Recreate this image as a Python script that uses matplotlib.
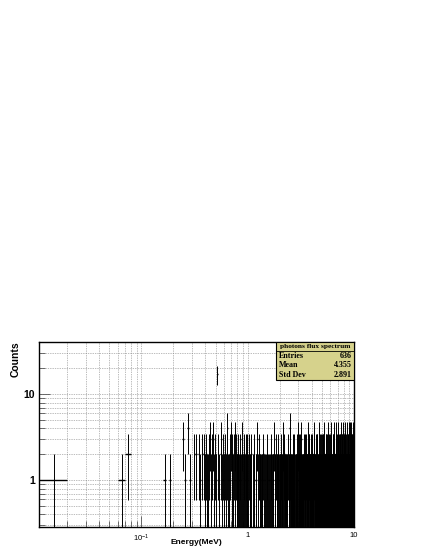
import numpy as np
import matplotlib
matplotlib.use('Agg')
from matplotlib import pyplot as plt
from matplotlib.ticker import FixedLocator, NullFormatter

# Spectro de fotones: 1000 bins de 0.01 MeV entre 0 y 10 MeV
nBins = 1000
eMin, eMax = 0.0, 10.0

# Cuentas de 0 a 1 MeV (bin a bin, el pico de 17 esta en 0.51 MeV)
countsLow = [0, 1, 0, 0, 0, 0, 1, 2, 0, 0,
             0, 0, 0, 0, 0, 0, 1, 0, 1, 0,
             0, 0, 0, 0, 3, 1, 0, 4, 1, 0,
             0, 2, 2, 0, 2, 1, 0, 2, 2, 1,
             2, 1, 1, 2, 3, 1, 2, 3, 1, 2,
             1, 17, 2, 1, 0, 2, 3, 1, 2, 1,
             2, 0, 1, 2, 4, 1, 1, 2, 0, 3,
             1, 2, 1, 0, 2, 1, 3, 2, 1, 1,
             2, 1, 0, 1, 2, 1, 1, 3, 1, 0,
             1, 2, 1, 1, 0, 2, 1, 2, 1, 1]

# Cuentas de 1 a 10 MeV, una fila por MeV (100 bins por fila)
countsHigh = [
    '1020110120 0100210010 1003010201 0110001100 2001010100 '
    '0120001010 1000210001 0101100030 1010020101 0200101001',
    '0110200101 1000130010 0201001100 1010010200 0011000410 '
    '2000110010 0100201001 1102000100 0010110020 1001003010',
    '1000201100 0120010010 3001000101 0100120000 1010001201 '
    '0002100110 1100010030 0010201000 2001100101 0100010210',
    '0101002001 1000110300 0020100010 1100001020 0001020101 '
    '2010000110 0100301000 1001000201 0110010002 1000120100',
    '1001010200 0200100110 1000030010 0110100002 1000201100 '
    '0011000100 2000110031 0100020100 1010100010 0002001101',
    '0100200101 1030010000 0001101020 2000010100 0110003001 '
    '1000200110 0101000102 1000110030 0020001100 1001020010',
    '1000102001 0130000100 1001010020 0100200010 2001000103 '
    '0010110000 1000021010 0201000100 1000300011 0110001002',
    '0010200101 1000013000 0101000200 2000110010 0100002101 '
    '1030000100 0001101000 1000020110 0200100003 1001010100',
    '1000101020 0103000100 2000010010 0011000201 1000300100 '
    '0100010012 1020000100 0000110300 1010002001 0100100110',
]

# Caja de estadisticas (valores de la figura original)
statsTitle = 'photons flux spectrum'
statsLabels = ['Entries', 'Mean', 'Std Dev']
statsValues = ['636', '4.355', '2.891']

xTicks = [0.1, 1, 10]
xTickLabels = [r'$\mathregular{10^{-1}}$', '1', '10']
yTicks = [1, 10]
yTickLabels = ['1', '10']

plt.rcParams['font.family'] = ['Liberation Sans', 'DejaVu Sans']
plt.rcParams['mathtext.fontset'] = 'custom'
plt.rcParams['mathtext.rm'] = 'Liberation Sans'

counts = np.array(countsLow +
                  [int(ch) for row in countsHigh for ch in row.replace(' ', '')])
edges = np.linspace(eMin, eMax, nBins + 1)

fig = plt.figure(figsize=(4.25, 5.5), dpi=100)
ax = fig.add_axes([0.092, 0.042, 0.741, 0.337])
ax.set_xscale('log')
ax.set_yscale('log')

# Solo se dibujan los bins no vacios, con error sqrt(N)
mask = counts > 0
lo = edges[:-1][mask]
hi = edges[1:][mask]
c = counts[mask].astype(float)
err = np.sqrt(c)
xc = 0.5 * (lo + hi)
ax.vlines(xc, np.maximum(c - err, 1e-3), c + err,
          color='black', linewidth=0.7, zorder=3)
ax.hlines(c, lo, hi, color='black', linewidth=1.0, zorder=3)

ax.set_xlim(0.0109, 10)
ax.set_ylim(0.287, 41)

ax.xaxis.set_major_locator(FixedLocator(xTicks))
ax.set_xticklabels(xTickLabels)
xMinor = [m * 10.0 ** e for e in (-2, -1, 0) for m in range(2, 10)]
ax.xaxis.set_minor_locator(FixedLocator(xMinor))
ax.xaxis.set_minor_formatter(NullFormatter())

ax.yaxis.set_major_locator(FixedLocator(yTicks))
ax.set_yticklabels(yTickLabels, fontweight='bold')
yMinor = [m * 10.0 ** e for e in (-1, 0, 1) for m in range(2, 10)]
ax.yaxis.set_minor_locator(FixedLocator(yMinor))
ax.yaxis.set_minor_formatter(NullFormatter())

ax.tick_params(axis='x', which='both', direction='in', labelsize=5.5,
               top=False, pad=4)
ax.tick_params(axis='y', which='both', direction='in', labelsize=7.5,
               right=False, pad=3)
ax.tick_params(which='major', length=8, width=0.6, color='#555555')
ax.tick_params(which='minor', length=4, width=0.6, color='#555555')

ax.grid(which='both', color='#7a7a7a', linestyle=(0, (1, 1.5)),
        linewidth=0.5, zorder=0)
ax.set_axisbelow(True)
for sp in ax.spines.values():
    sp.set_linewidth(1.0)

ax.set_xlabel('Energy(MeV)', fontsize=6, fontweight='bold')
ax.xaxis.set_label_coords(0.5, -0.086)
ax.xaxis.label.set_verticalalignment('center')
ax.set_ylabel('Counts', fontsize=7.5, fontweight='bold')
ax.yaxis.set_label_coords(-0.058, 1.0)
ax.yaxis.label.set_horizontalalignment('right')

# Caja de estadisticas estilo ROOT
bx0, bx1 = 0.751, 1.0
by0, by1 = 0.795, 1.0
box = plt.Rectangle((bx0, by0), bx1 - bx0, by1 - by0, transform=ax.transAxes,
                    facecolor='#d6d28c', edgecolor='black', linewidth=0.8,
                    zorder=5)
ax.add_patch(box)
rowH = (by1 - by0) / 4.0
ax.plot([bx0, bx1], [by1 - rowH, by1 - rowH], transform=ax.transAxes,
        color='black', linewidth=0.6, zorder=6)
serif = ['Liberation Serif', 'DejaVu Serif']
ax.text((bx0 + bx1) / 2, by1 - rowH / 2, statsTitle, transform=ax.transAxes,
        ha='center', va='center', fontsize=5.3, fontweight='bold',
        family=serif, zorder=7)
for i, (lab, val) in enumerate(zip(statsLabels, statsValues)):
    yy = by1 - rowH * (i + 1.5)
    ax.text(bx0 + 0.01, yy, lab, transform=ax.transAxes, ha='left',
            va='center', fontsize=5.8, fontweight='bold', family=serif,
            zorder=7)
    ax.text(bx1 - 0.008, yy, val, transform=ax.transAxes, ha='right',
            va='center', fontsize=5.8, fontweight='bold', family=serif,
            zorder=7)

fig.savefig('out.png', dpi=100)
